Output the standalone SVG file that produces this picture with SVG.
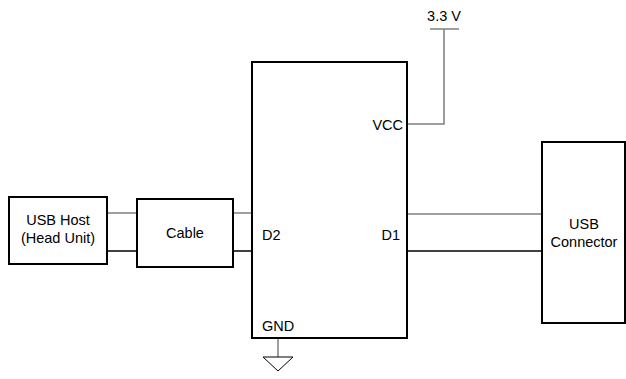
<svg xmlns="http://www.w3.org/2000/svg" width="626" height="379" viewBox="0 0 626 379">
<style>
.box{fill:#fff;stroke:#000;stroke-width:2}
.w{stroke:#000;stroke-width:1.5;fill:none}
.g{stroke:#7f7f7f;stroke-width:1.5;fill:none}
text{font-family:"Liberation Sans",Arial,sans-serif;font-size:14.5px;fill:#000}
.m{text-anchor:middle}
.e{text-anchor:end}
</style>
<rect width="626" height="379" fill="#fff"/>
<g id="connectors">
<line class="g" x1="107" y1="213" x2="137" y2="213"/>
<line class="w" x1="107" y1="251" x2="137" y2="251"/>
<line class="g" x1="233" y1="213" x2="252" y2="213"/>
<line class="w" x1="233" y1="251" x2="252" y2="251"/>
<line class="g" x1="407" y1="214" x2="542" y2="214"/>
<line class="w" x1="407" y1="251" x2="542" y2="251"/>
<polyline class="g" points="407,124 444,124 444,29"/>
<line class="g" x1="430" y1="29" x2="459" y2="29"/>
<line class="g" x1="278" y1="338" x2="278" y2="357"/>
<polygon points="263,357 293,357 278,371" fill="#fff" stroke="#000" stroke-width="1"/>
</g>
<g id="usb-host">
<rect class="box" x="9" y="197" width="98" height="67"/>
<text class="m" x="58" y="225">USB Host</text>
<text class="m" x="58" y="243">(Head Unit)</text>
</g>
<g id="cable">
<rect class="box" x="137" y="199" width="96" height="68"/>
<text class="m" x="185" y="238">Cable</text>
</g>
<g id="ic">
<rect class="box" x="252" y="62" width="155" height="276"/>
<text class="e" x="403" y="130">VCC</text>
<text x="262" y="240">D2</text>
<text class="e" x="400" y="240">D1</text>
<text x="262" y="331">GND</text>
</g>
<g id="supply">
<text class="m" x="444" y="21">3.3 V</text>
</g>
<g id="usb-connector">
<rect class="box" x="542" y="142" width="83" height="181"/>
<text class="m" x="584" y="229">USB</text>
<text class="m" x="584" y="247">Connector</text>
</g>
</svg>
